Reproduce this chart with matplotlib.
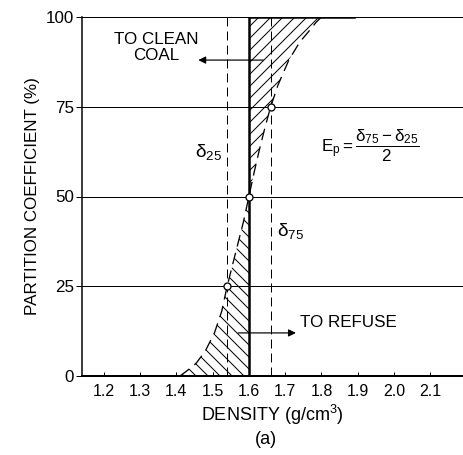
import matplotlib
matplotlib.use("Agg")
import matplotlib.pyplot as plt
import numpy as np

plt.rcParams['font.family'] = ['Liberation Sans', 'DejaVu Sans']
plt.rcParams['mathtext.fontset'] = 'custom'
plt.rcParams['mathtext.rm'] = 'Liberation Sans'
plt.rcParams['mathtext.it'] = 'Liberation Sans'
plt.rcParams['hatch.linewidth'] = 1.0

# Data
x_ticks = [1.2, 1.3, 1.4, 1.5, 1.6, 1.7, 1.8, 1.9, 2.0, 2.1]
x_tick_labels = ["1.2", "1.3", "1.4", "1.5", "1.6", "1.7", "1.8", "1.9", "2.0", "2.1"]
y_ticks = [0, 25, 50, 75, 100]

# ideal (step) partition curve
step_x = [1.27, 1.60, 1.60, 1.89]
step_y = [0, 0, 100, 100]

# actual partition curve (dashed), lower part (below cut) and upper part
low_x = [1.41, 1.43, 1.455, 1.48, 1.505, 1.525, 1.54, 1.555, 1.57, 1.585, 1.60]
low_y = [0, 1.5, 3.6, 7, 12, 18, 25, 31, 37, 43, 50]
up_x = [1.60, 1.615, 1.63, 1.645, 1.66, 1.68, 1.71, 1.74, 1.765, 1.785, 1.80]
up_y = [50, 57, 63.5, 69.5, 75, 81, 88, 93, 96, 98.5, 100]

d25, d75, cut = 1.54, 1.66, 1.60
marker_x = [1.54, 1.60, 1.66]
marker_y = [25, 50, 75]

fig = plt.figure(figsize=(463/72, 455/72), dpi=72)
ax = fig.add_axes([82/463, 1 - 376/455, 1 - 82/463, (376 - 17)/455])
ax.set_xlim(1.14, 2.19)
ax.set_ylim(0, 100)

# grid lines
for yv in [25, 50, 75, 100]:
    ax.axhline(yv, color='black', lw=1.0, zorder=1)

# hatched areas
ax.fill_between(low_x, low_y, 0, facecolor='none', edgecolor='black', hatch='\\\\', lw=0, zorder=2)
ax.fill_between(up_x, up_y, 100, facecolor='none', edgecolor='black', hatch='//', lw=0, zorder=2)

# dashed partition curve
ax.plot(low_x + up_x[1:], low_y + up_y[1:], color='black', lw=1.3, dashes=(9, 5), zorder=3)

# vertical dashed lines
ax.plot([d25, d25], [0, 100], color='black', lw=1.0, dashes=(9, 5), zorder=3)
ax.plot([d75, d75], [0, 100], color='black', lw=1.0, dashes=(9, 5), zorder=3)

# step curve
ax.plot(step_x, step_y, color='black', lw=2.5, solid_joinstyle='miter', zorder=4)

# markers
ax.plot(marker_x, marker_y, 'o', ms=7, mfc='white', mec='black', mew=1.3, zorder=5)

# arrows
ax.annotate('', xy=(1.455, 88), xytext=(1.645, 88),
            arrowprops=dict(arrowstyle='-|>', color='black', lw=1.2, mutation_scale=15), zorder=6)
ax.annotate('', xy=(1.735, 12), xytext=(1.565, 12),
            arrowprops=dict(arrowstyle='-|>', color='black', lw=1.2, mutation_scale=15), zorder=6)

ax.text(1.345, 91.5, "TO CLEAN\nCOAL", ha='center', va='center', fontsize=17, linespacing=1.05)
ax.text(1.74, 14.8, "TO REFUSE", ha='left', va='center', fontsize=17)
ax.text(1.49, 62.5, r"δ$_{25}$", ha='center', va='center', fontsize=19)
ax.text(1.715, 40.5, r"δ$_{75}$", ha='center', va='center', fontsize=19)
ax.text(1.935, 64, r"$\mathregular{E_p = \dfrac{δ_{75} - δ_{25}}{2}}$", ha='center', va='center', fontsize=17)

# spines & ticks
for s in ['top', 'right']:
    ax.spines[s].set_visible(False)
ax.spines['left'].set_linewidth(1.5)
ax.spines['bottom'].set_linewidth(2.0)
ax.set_xticks(x_ticks)
ax.set_xticklabels(x_tick_labels)
ax.set_yticks(y_ticks)
ax.tick_params(axis='x', direction='in', length=4, width=1, labelsize=16, pad=8)
ax.tick_params(axis='y', direction='out', length=6, width=1, labelsize=17, pad=2)

ax.set_xlabel("DENSITY (g/cm$^3$)", fontsize=18, labelpad=4)
ax.set_ylabel("PARTITION COEFFICIENT (%)", fontsize=17, labelpad=6)
fig.text(266/463, 1 - 440/455, "(a)", ha='center', va='center', fontsize=18)

fig.savefig("out.png", dpi=72)
